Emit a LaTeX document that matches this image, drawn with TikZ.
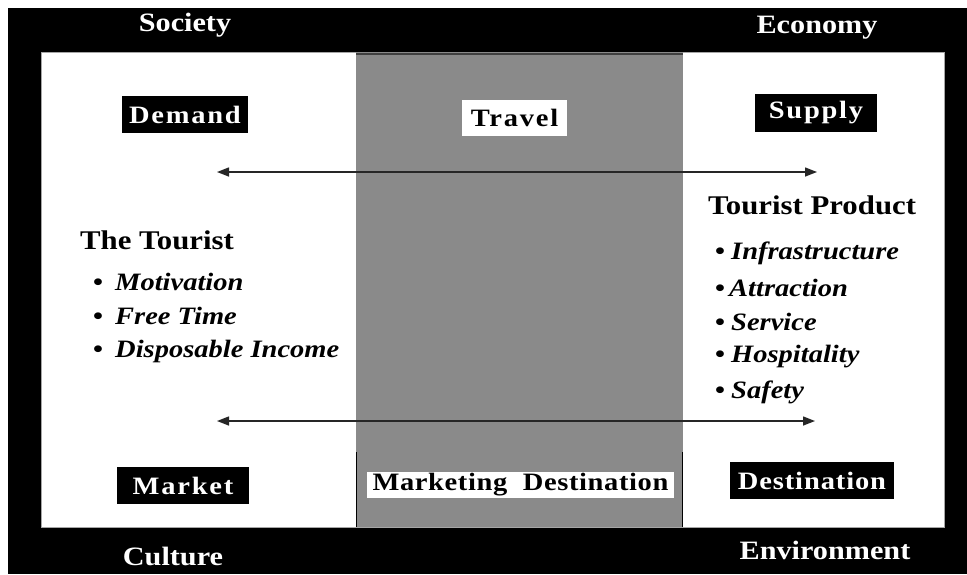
\documentclass[tikz,border=0pt]{standalone}
\usepackage{fontspec}
\setmainfont{Liberation Serif}[FakeStretch=1.14]
\usetikzlibrary{arrows.meta}
\definecolor{colgrey}{HTML}{8A8A8A}
\newcommand{\bul}[1]{\makebox[#1][l]{\upshape •}}
\begin{document}
\begin{tikzpicture}[x=1pt,y=-1pt,
  every node/.style={inner sep=0pt, font=\fontsize{25}{28}\selectfont\bfseries},
  corner/.style={text=white, font=\fontsize{26.5}{30}\selectfont\bfseries},
  blackbox/.style={fill=black, text=white, font=\fontsize{25}{28}\selectfont\bfseries\addfontfeatures{LetterSpace=7}},
  whitebox/.style={fill=white, text=black, font=\fontsize{25}{28}\selectfont\bfseries\addfontfeatures{LetterSpace=7}},
  heading/.style={anchor=west, font=\fontsize{27}{30}\selectfont\bfseries},
  item/.style={anchor=west, font=\fontsize{25}{28}\selectfont\bfseries\itshape},
  link/.style={line width=1.4pt, draw=black!85, {Triangle[length=12pt,width=9pt]}-{Triangle[length=12pt,width=9pt]}}
]
\useasboundingbox (0,0) rectangle (967,574);
% frame
\fill[white] (0,0) rectangle (967,574);
\fill[black] (8,8) rectangle (967,574);
\filldraw[fill=white, draw=gray!70, line width=1pt] (41,52) rectangle (944,527);
\fill[colgrey] (356,52) rectangle (683,527);
\draw[line width=2pt, black!75] (356,54) -- (683,54);
\draw[line width=1pt] (356,452) -- (356,527);
\draw[line width=1pt] (682,452) -- (682,527);

% corner labels
\node[corner] (society) at (185,25) {Society};
\node[corner] (economy) at (817,28) {Economy};
\node[corner] (culture) at (173,556) {Culture};
\node[corner] (environment) at (825,550) {Environment};

% boxes
\node[blackbox, minimum width=126pt, minimum height=37pt] (demand) at (185,114.5) {Demand};
\node[whitebox, minimum width=105pt, minimum height=36pt] (travel) at (514.5,117.5) {Travel};
\node[blackbox, minimum width=122pt, minimum height=38pt] (supply) at (816,113) {Supply};
\node[blackbox, minimum width=132pt, minimum height=37pt] (market) at (183,485.5) {Market};
\node[whitebox, minimum width=307pt, minimum height=26pt, font=\fontsize{25}{28}\selectfont\bfseries\addfontfeatures{LetterSpace=2.5}] (mdest) at (520.5,485) {Marketing~~Destination};
\node[blackbox, minimum width=164pt, minimum height=37pt, font=\fontsize{25}{28}\selectfont\bfseries\addfontfeatures{LetterSpace=3.5}] (dest) at (812,480.5) {Destination};

% left list
\node[heading] (tourist) at (80,240) {The Tourist};
\node[item] (i1) at (93,282) {\bul{22pt}Motivation};
\node[item] (i2) at (93,316) {\bul{22pt}Free Time};
\node[item] (i3) at (93,351) {\bul{22pt}Disposable Income};

% right list
\node[heading] (product) at (708,205) {Tourist Product};
\node[item] (p1) at (715,253) {\bul{16pt}Infrastructure};
\node[item] (p2) at (715,288) {\bul{14pt}Attraction};
\node[item] (p3) at (715,322) {\bul{16pt}Service};
\node[item] (p4) at (715,357) {\bul{16pt}Hospitality};
\node[item] (p5) at (715,392) {\bul{16pt}Safety};

% arrows
\coordinate (tl) at (217,172);
\coordinate (tr) at (817,172);
\coordinate (bl) at (217,421);
\coordinate (br) at (815,421);
\draw[link] (tl) -- (tr);
\draw[link] (bl) -- (br);
\end{tikzpicture}
\end{document}
